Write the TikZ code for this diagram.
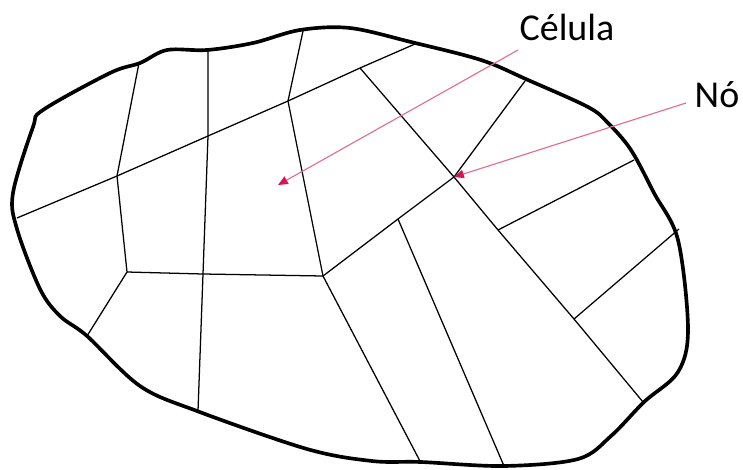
\documentclass[tikz,border=0pt]{standalone}
\usepackage{fontspec}
\setmainfont{Carlito}
\usetikzlibrary{arrows.meta}
\definecolor{pointred}{RGB}{214,20,90}
\definecolor{pointpink}{RGB}{222,110,140}

\begin{document}
\begin{tikzpicture}[
  x=0.025cm, y=-0.025cm,
  wall/.style={line width=2.6pt,line join=round},  mesh/.style={line width=0.9pt},  pointer/.style={pointpink,line width=0.8pt,-{Triangle[length=7pt,width=6pt,fill=pointred,color=pointred]}},  tag/.style={inner sep=0pt,font=\fontsize{27}{30}\selectfont}
]
  \useasboundingbox (0,0) rectangle (743,469);
  % outline
  \draw[wall] plot[smooth cycle,tension=0.55] coordinates {
    (13,193) (33,127) (43,110) (110,73) (140,63) (167,50) (207,50)
    (253,43) (300,30) (350,28) (411,42) (481,60) (528,80) (588,107)
    (608,123) (631,150) (654,193) (678,240) (688,329) (678,372)
    (644,402) (611,436) (578,459) (504,466) (421,462) (372,461)
    (307,449) (197,411) (140,386) (87,336) (60,316) (40,289) (17,229)};
  % points on the outline
  \coordinate (b1) at (17,218);
  \coordinate (b2) at (139,63);
  \coordinate (b3) at (208,50);
  \coordinate (b4) at (303,31);
  \coordinate (b5) at (415,44);
  \coordinate (b6) at (525,81);
  \coordinate (b7) at (634,160);
  \coordinate (b8) at (679,229);
  \coordinate (b9) at (643,402);
  \coordinate (b10) at (504,466);
  \coordinate (b11) at (421,463);
  \coordinate (b12) at (198,411);
  \coordinate (b13) at (87,336);
  % inner nodes
  \coordinate (v1) at (117,176);
  \coordinate (v2) at (208,136);
  \coordinate (v3) at (288,101);
  \coordinate (v4) at (360,68);
  \coordinate (v5) at (127,272);
  \coordinate (v6) at (203,274);
  \coordinate (v7) at (323,276);
  \coordinate (v8) at (454,177);
  \coordinate (v9) at (398,219);
  \coordinate (v10) at (498,230);
  \coordinate (v11) at (574,319);
  \coordinate (cell) at (278,185);
  % edges
  \draw[mesh] (b1) -- (v1) -- (v2) -- (v3) -- (v4) -- (b5);
  \draw[mesh] (b2) -- (v1) -- (v5) -- (b13);
  \draw[mesh] (b3) -- (v2) -- (v6) -- (b12);
  \draw[mesh] (b4) -- (v3) -- (v7) -- (b11);
  \draw[mesh] (v5) -- (v6) -- (v7);
  \draw[mesh] (v7) -- (v9) -- (v8) -- (b6);
  \draw[mesh] (v4) -- (v8) -- (v10) -- (v11) -- (b9);
  \draw[mesh] (v10) -- (b7);
  \draw[mesh] (v11) -- (b8);
  \draw[mesh] (v9) -- (b10);
  % labels
  \node[tag] (celula) at (567,27) {Célula};
  \node[tag] (no) at (717,95) {Nó};
  \coordinate (celulaend) at (518,50);
  \coordinate (noend) at (686,103);
  \draw[pointer] (celulaend) -- (cell);
  \draw[pointer] (noend) -- (v8);
\end{tikzpicture}
\end{document}
